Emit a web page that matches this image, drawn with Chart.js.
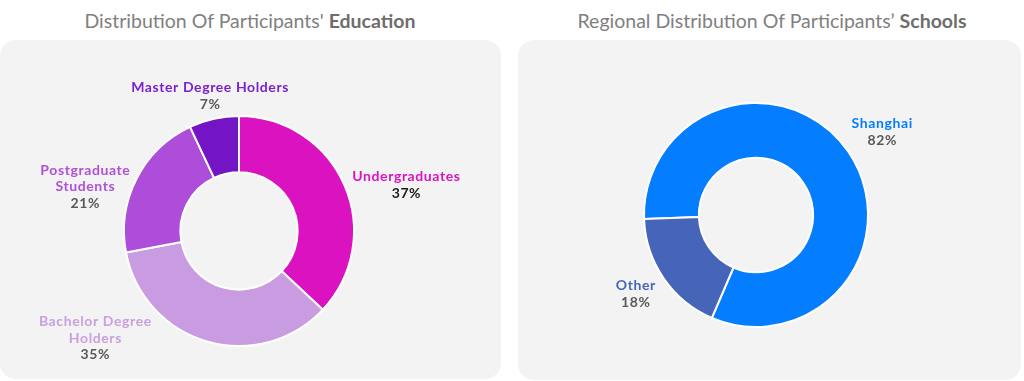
<!DOCTYPE html>
<html lang="en">
<head>
    <meta charset="UTF-8">
    <title>Participants Distribution</title>
    <script src="https://cdn.jsdelivr.net/npm/chart.js"></script>
    <style>
        body {
            margin: 0;
            width: 1024px;
            height: 381px;
            background: #ffffff;
            position: relative;
            overflow: hidden;
            font-family: Lato, "Open Sans", sans-serif;
        }
        .title {
            position: absolute;
            top: 9px;
            font-size: 19.5px;
            color: #808080;
            white-space: nowrap;
            transform: translateX(-50%);
        }
        .title b {
            color: #6e6e6e;
        }
        .panel {
            position: absolute;
            top: 40px;
            background: #f3f3f3;
            border-radius: 16px;
        }
    </style>
</head>
<body>
    <div class="title" style="left:250px">Distribution Of Participants' <b>Education</b></div>
    <div class="title" style="left:772px">Regional Distribution Of Participants’ <b>Schools</b></div>

    <div class="panel" style="left:0px; width:501px; height:339px;">
        <canvas id="eduChart"></canvas>
    </div>
    <div class="panel" style="left:518px; width:503px; height:340px;">
        <canvas id="regionChart"></canvas>
    </div>

    <script>
        // education chart data
        const eduLabels = [['Undergraduates'], ['Bachelor Degree', 'Holders'], ['Postgraduate', 'Students'], ['Master Degree Holders']];
        const eduValues = [37, 35, 21, 7];
        const eduColors = ['#da12bf', '#c99be0', '#ae4dd9', '#7315c4'];

        // school region chart data
        const regionLabels = [['Shanghai'], ['Other']];
        const regionValues = [82, 18];
        const regionColors = ['#047dfe', '#4665b8'];

        // labels outside the ring, placed from each slice's middle angle
        const outsideLabels = {
            id: 'outsideLabels',
            afterDatasetsDraw(chart, args, opts) {
                const ctx = chart.ctx;
                const meta = chart.getDatasetMeta(0);
                const data = chart.data.datasets[0].data;
                const colors = chart.data.datasets[0].backgroundColor;
                const lineH = 16.5;
                ctx.save();
                ctx.textAlign = 'center';
                ctx.textBaseline = 'middle';
                ctx.font = 'bold 14px Lato, sans-serif';
                ctx.letterSpacing = '0.6px';
                meta.data.forEach((arc, i) => {
                    const p = opts.place[i];
                    const mid = (arc.startAngle + arc.endAngle) / 2 + p.shift * Math.PI / 180;
                    const r = arc.outerRadius * p.dist;
                    const x = arc.x + Math.cos(mid) * r;
                    const y = arc.y + Math.sin(mid) * r;
                    const lines = chart.data.labels[i];
                    const n = lines.length + 1;
                    let y0 = y - (n - 1) * lineH / 2;
                    ctx.fillStyle = p.color || colors[i];
                    lines.forEach((t, k) => ctx.fillText(t, x, y0 + k * lineH));
                    ctx.fillStyle = p.pctColor || '#595959';
                    ctx.fillText(data[i] + '%', x, y0 + lines.length * lineH);
                });
                ctx.restore();
            }
        };

        function makeDonut(id, labels, values, colors, rotation, radius, padding, place) {
            new Chart(document.getElementById(id), {
                type: 'doughnut',
                data: {
                    labels: labels,
                    datasets: [{
                        data: values,
                        backgroundColor: colors,
                        borderColor: '#ffffff',
                        borderWidth: 2
                    }]
                },
                options: {
                    responsive: true,
                    maintainAspectRatio: false,
                    animation: false,
                    rotation: rotation,
                    radius: radius,
                    cutout: '51%',
                    layout: { padding: padding },
                    plugins: {
                        legend: { display: false },
                        tooltip: { enabled: false },
                        outsideLabels: { place: place }
                    }
                },
                plugins: [outsideLabels]
            });
        }

        makeDonut('eduChart', eduLabels, eduValues, eduColors, 0, 115,
            { left: 119, right: 142, top: 71, bottom: 28 },
            [
                { shift: 8, dist: 1.51, pctColor: '#1a1a1a' },
                { shift: 37, dist: 1.56, color: '#c9a0e0' },
                { shift: -11, dist: 1.39, color: '#b050d8' },
                { shift: 0.5, dist: 1.2, color: '#7a22cc' }
            ]);

        makeDonut('regionChart', regionLabels, regionValues, regionColors, -92, 112,
            { left: 118, right: 145, top: 55, bottom: 45 },
            [
                { shift: 1, dist: 1.35 },
                { shift: 1, dist: 1.285 }
            ]);
    </script>
</body>
</html>
